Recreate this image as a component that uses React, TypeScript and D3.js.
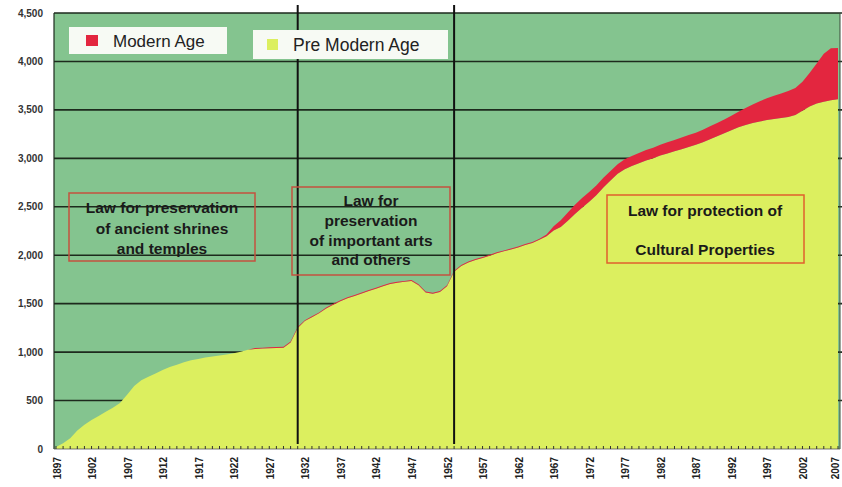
import React from 'react';
import * as d3 from 'd3';

// designated cultural properties per year, 1897 - 2007
const firstYear = 1897;
const preModern = [
  20, 60, 110, 190, 250, 300, 340, 385, 425, 475,
  560, 650, 710, 745, 780, 815, 846, 870, 895, 915,
  930, 945, 955, 965, 975, 988, 1005, 1025, 1032, 1036,
  1040, 1042, 1045, 1100, 1250, 1320, 1360, 1400, 1450, 1490,
  1525, 1555, 1580, 1605, 1631, 1655, 1680, 1703, 1715, 1725,
  1734, 1690, 1615, 1602, 1620, 1680, 1830, 1890, 1925, 1950,
  1971, 1995, 2020, 2040, 2060, 2080, 2105, 2126, 2160, 2195,
  2255, 2290, 2355, 2425, 2490, 2552, 2620, 2700, 2770, 2840,
  2888, 2921, 2950, 2978, 3000, 3028, 3050, 3072, 3095, 3118,
  3140, 3167, 3198, 3229, 3258, 3290, 3320, 3345, 3365, 3380,
  3395, 3405, 3415, 3426, 3446, 3490, 3535, 3565, 3585, 3600,
  3610,
];
const modern = [
  0, 0, 0, 0, 0, 0, 0, 0, 0, 0,
  0, 0, 0, 0, 0, 0, 0, 0, 0, 0,
  0, 0, 0, 0, 0, 0, 0, 0, 10, 10,
  10, 10, 10, 10, 10, 10, 10, 10, 10, 10,
  10, 10, 10, 10, 10, 10, 10, 10, 10, 10,
  10, 10, 10, 10, 10, 10, 10, 10, 10, 10,
  10, 10, 10, 10, 10, 10, 10, 10, 10, 20,
  45, 70, 85, 95, 100, 100, 100, 100, 100, 100,
  102, 104, 105, 108, 110, 112, 115, 118, 120, 122,
  125, 128, 132, 136, 142, 150, 160, 175, 190, 210,
  225, 240, 255, 269, 280, 300, 345, 415, 495, 535,
  530,
];
const tickYears = [1897, 1902, 1907, 1912, 1917, 1922, 1927, 1932, 1937, 1942, 1947, 1952, 1957, 1962, 1967, 1972, 1977, 1982, 1987, 1992, 1997, 2002, 2007];
const yTicks = [0, 500, 1000, 1500, 2000, 2500, 3000, 3500, 4000, 4500];
const lawYears = [1931, 1953];

const GREEN = '#84c48f';
const YELLOW = '#dcef5f';
const RED = '#e3263f';
const FONT = '"Liberation Sans", Arial, sans-serif';

const App = () => {
  const width = 842;
  const height = 487;
  const left = 54, right = 840, top = 13, bottom = 449;

  const rows = preModern.map((v, i) => ({ year: firstYear + i, pre: v, modern: modern[i] }));
  const x = d3.scaleLinear().domain([firstYear, 2007]).range([56, 838]);
  const y = d3.scaleLinear().domain([0, 4500]).range([bottom, top]);

  const series = d3.stack().keys(['pre', 'modern'])(rows);
  const area = d3.area()
    .x(d => x(d.data.year))
    .y0(d => y(d[0]))
    .y1(d => y(d[1]));

  const allYears = rows.map(r => r.year);

  const lawBoxes = [
    { x: 69, y: 193, w: 186, h: 68, stroke: '#c4523f', cx: 162, lines: ['Law for preservation', 'of ancient shrines', 'and temples'], base: [213, 234, 254] },
    { x: 292, y: 187, w: 158, h: 88, stroke: '#c4523f', cx: 371, lines: ['Law for', 'preservation', 'of important arts', 'and others'], base: [206, 226, 246, 265] },
    { x: 607, y: 195, w: 197, h: 68, stroke: '#e0602e', cx: 705, lines: ['Law for protection of', 'Cultural Properties'], base: [216, 255] },
  ];

  return (
    <svg width={width} height={height} style={{ position: 'absolute', left: 0, top: 0, background: '#fff' }}>
      <rect x={left} y={top} width={right - left} height={bottom - top} fill={GREEN} />
      {/* grid lines sit behind the areas */}
      {yTicks.filter(t => t > 0).map(t => (
        <line key={t} x1={left} x2={right + 2} y1={y(t)} y2={y(t)} stroke="#1d2a1d" strokeWidth={1.6} />
      ))}
      <path d={area(series[0])} fill={YELLOW} />
      <path d={area(series[1])} fill={RED} />
      <line x1={left} x2={left} y1={top} y2={bottom} stroke="#1d2a1d" strokeWidth={1.2} />
      <line x1={right} x2={right} y1={top} y2={bottom} stroke="#3a4a3a" strokeWidth={1} />
      <line x1={left} x2={right} y1={bottom} y2={bottom} stroke="#555" strokeWidth={0.8} />
      {allYears.map(yr => (
        <line key={yr} x1={x(yr)} x2={x(yr)} y1={bottom - 3} y2={bottom} stroke="#333" strokeWidth={1} />
      ))}
      {lawYears.map(yr => (
        <line key={yr} x1={x(yr)} x2={x(yr)} y1={5} y2={444} stroke="#111" strokeWidth={2} />
      ))}

      {/* legend */}
      <rect x={69} y={27} width={158} height={27} fill="#f7faf4" />
      <rect x={86} y={35} width={12} height={11} fill={RED} />
      <text x={113} y={47} fontFamily={FONT} fontSize={17} fill="#222">Modern Age</text>
      <rect x={253} y={30} width={195} height={29} fill="#f7faf4" />
      <rect x={267} y={39} width={11} height={11} fill={YELLOW} />
      <text x={293} y={51} fontFamily={FONT} fontSize={17.5} fill="#222">Pre Modern Age</text>

      {lawBoxes.map((b, i) => (
        <g key={i}>
          <rect x={b.x} y={b.y} width={b.w} height={b.h} fill="none" stroke={b.stroke} strokeWidth={1.5} />
          {b.lines.map((l, j) => (
            <text key={j} x={b.cx} y={b.base[j]} textAnchor="middle" fontFamily={FONT} fontWeight="bold" fontSize={15.5} fill="#1a1a1a">{l}</text>
          ))}
        </g>
      ))}

      {yTicks.map(t => (
        <text key={t} x={43} y={y(t)} dy="0.35em" textAnchor="end" fontFamily={FONT} fontWeight="bold" fontSize={10} fill="#333">
          {d3.format(',')(t)}
        </text>
      ))}
      {tickYears.map(yr => (
        <text key={yr} transform={`translate(${Math.min(x(yr) + 1, 835)},457) rotate(-90)`} dy="0.35em" textAnchor="end" fontFamily={FONT} fontWeight="bold" fontSize={10} fill="#222">
          {yr}
        </text>
      ))}
    </svg>
  );
};

export default App;
